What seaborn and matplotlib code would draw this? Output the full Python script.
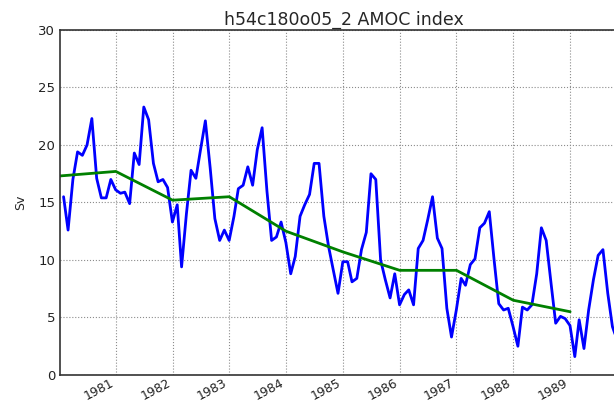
import datetime as dt

import matplotlib
matplotlib.use("Agg")
import matplotlib.pyplot as plt
import matplotlib.dates as mdates
import pandas as pd
import seaborn as sns

# monthly AMOC index (Sv), starting Jan 1980
monthly_sv = [
    15.5, 12.6, 17.0, 19.4, 19.1, 20.0, 22.3, 17.1, 15.4, 15.4, 17.0, 16.1,
    15.8, 15.9, 14.9, 19.3, 18.3, 23.3, 22.2, 18.4, 16.8, 17.0, 16.3, 13.3,
    14.8, 9.4, 14.0, 17.8, 17.1, 19.6, 22.1, 18.0, 13.6, 11.7, 12.6, 11.7,
    13.8, 16.2, 16.5, 18.1, 16.5, 19.6, 21.5, 16.0, 11.7, 12.0, 13.3, 11.5,
    8.8, 10.3, 13.8, 14.8, 15.7, 18.4, 18.4, 13.8, 11.2, 9.1, 7.1, 9.85,
    9.85, 8.1, 8.4, 10.9, 12.4, 17.5, 17.0, 10.0, 8.3, 6.7, 8.8, 6.1,
    7.0, 7.4, 6.1, 11.0, 11.7, 13.5, 15.5, 11.9, 11.0, 5.8, 3.3, 5.65,
    8.4, 7.8, 9.6, 10.1, 12.8, 13.2, 14.2, 10.0, 6.2, 5.65, 5.8, 4.2,
    2.5, 5.9, 5.65, 6.1, 8.8, 12.8, 11.7, 8.0, 4.5, 5.1, 4.9, 4.3,
    1.6, 4.8, 2.3, 5.65, 8.3, 10.4, 10.9, 7.1, 4.2, 3.0,
]
annual_years = [1980, 1981, 1982, 1983, 1984, 1985, 1986, 1987, 1988, 1989]
annual_sv = [17.3, 17.7, 15.2, 15.5, 12.5, 10.7, 9.1, 9.1, 6.5, 5.5]
tick_years = [1981, 1982, 1983, 1984, 1985, 1986, 1987, 1988, 1989]

monthly = pd.DataFrame({
    "date": pd.date_range("1980-01-31", periods=len(monthly_sv), freq="ME"),
    "sv": monthly_sv,
})
annual = pd.DataFrame({
    "date": [dt.datetime(y, 1, 1) for y in annual_years],
    "sv": annual_sv,
})

sns.set_style("white")
plt.rcParams["font.family"] = ["DejaVu Sans"]

fig = plt.figure(figsize=(6.14, 4.05), dpi=100)
# axes run past the right edge, as in the cropped original
ax = fig.add_axes([0.0977, 0.0741, 0.9233, 0.8519])

sns.lineplot(data=monthly, x="date", y="sv", color="#0000ff", lw=2.0, ax=ax)
sns.lineplot(data=annual, x="date", y="sv", color="#008000", lw=2.0, ax=ax)

ax.set_xlim(dt.datetime(1980, 1, 8), dt.datetime(1990, 1, 1))
ax.set_ylim(0, 30)
ax.set_yticks([0, 5, 10, 15, 20, 25, 30])
ax.set_xticks([dt.datetime(y, 1, 1) for y in tick_years])
ax.xaxis.set_major_formatter(mdates.DateFormatter("%Y"))
ax.grid(True, linestyle=":", color="0.55", lw=0.8)
ax.tick_params(direction="in", length=4, labelsize=9.5, colors="#222222")
ax.tick_params(axis="x", labelsize=9, pad=1)
for s in ax.spines.values():
    s.set_color("#333333")
    s.set_linewidth(1.2)

for lbl in ax.get_xticklabels():
    lbl.set_rotation(28)
    lbl.set_ha("right")

ax.set_xlabel("")
ax.set_ylabel("Sv", fontsize=9, labelpad=8)
ax.set_title("h54c180o05_2 AMOC index", fontsize=12.5, pad=4)

fig.savefig("out.png", dpi=100)
